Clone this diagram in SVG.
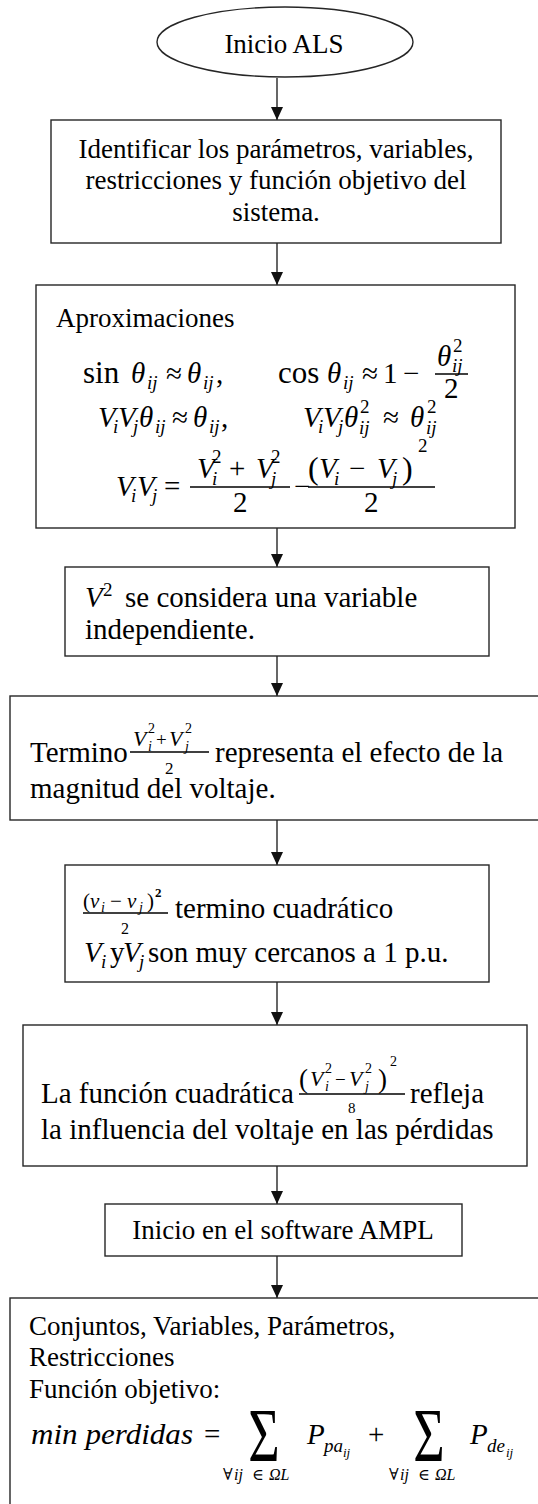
<svg xmlns="http://www.w3.org/2000/svg" width="538" height="1504" viewBox="0 0 538 1504" font-family="Liberation Serif, Times New Roman, DejaVu Serif, serif">
<style>
.box{fill:#fff;stroke:#262626;stroke-width:1.4}
.t{font-family:'Liberation Serif','Times New Roman','DejaVu Serif',serif;font-size:27px;fill:#000}
.L{font-size:29px}
.it{font-style:italic}
.mid{text-anchor:middle}
.bar{stroke:#000;stroke-width:1.3}
.edge{stroke:#262626;stroke-width:1.4;fill:none;marker-end:url(#ah)}
</style>
<defs>
<marker id="ah" viewBox="0 0 13 12" refX="13" refY="6" markerWidth="13" markerHeight="12" markerUnits="userSpaceOnUse" orient="auto">
<path d="M0,0 L13,6 L0,12 z" fill="#111"/>
</marker>
</defs>
<rect width="538" height="1504" fill="#fff"/>

<g id="connectors">
<line class="edge" x1="277" y1="78" x2="277" y2="120"/>
<line class="edge" x1="277" y1="243" x2="277" y2="285"/>
<line class="edge" x1="277" y1="528" x2="277" y2="567"/>
<line class="edge" x1="277" y1="656" x2="277" y2="696"/>
<line class="edge" x1="277" y1="820" x2="277" y2="865"/>
<line class="edge" x1="277" y1="982" x2="277" y2="1025"/>
<line class="edge" x1="277" y1="1166" x2="277" y2="1204"/>
<line class="edge" x1="277" y1="1256" x2="277" y2="1298"/>
</g>

<g id="n-start">
<ellipse class="box" cx="285" cy="42" rx="128" ry="35"/>
<text class="t mid" x="284" y="53">Inicio ALS</text>
</g>

<g id="n-identificar">
<rect class="box" x="51" y="120" width="450" height="123"/>
<text class="t mid" x="276" y="158">Identificar los parámetros, variables,</text>
<text class="t mid" x="276" y="189">restricciones y función objetivo del</text>
<text class="t mid" x="276" y="221">sistema.</text>
</g>

<g id="n-aprox">
<rect class="box" x="36" y="285" width="479" height="243"/>
<text class="t" x="56" y="327">Aproximaciones</text>
<text class="t" style="font-size:31px" x="83" y="383">sin</text>
<text class="t" style="font-size:31px" x="278" y="383">cos</text>
<text class="t L">
<tspan x="131" y="383" class="it">θ</tspan>
<tspan x="147" y="389" style="font-size:19px" class="it">ij</tspan>
<tspan x="166" y="383">≈</tspan>
<tspan x="187" y="383" class="it">θ</tspan>
<tspan x="203" y="389" style="font-size:19px" class="it">ij</tspan>
<tspan x="216" y="383">,</tspan>
<tspan x="327" y="383" class="it">θ</tspan>
<tspan x="343" y="389" style="font-size:19px" class="it">ij</tspan>
<tspan x="362" y="383">≈</tspan>
<tspan x="383" y="383">1</tspan>
<tspan x="403" y="383">−</tspan>
<tspan x="437" y="366" class="it">θ</tspan>
<tspan x="453" y="352" style="font-size:19px">2</tspan>
<tspan x="452" y="372" style="font-size:19px" class="it">ij</tspan>
<tspan x="444" y="398">2</tspan>
</text>
<line class="bar" x1="435" y1="374" x2="468" y2="374"/>
<text class="t L">
<tspan x="98" y="427" class="it">V</tspan>
<tspan x="113" y="433" style="font-size:19px" class="it">i</tspan>
<tspan x="118" y="427" class="it">V</tspan>
<tspan x="133" y="433" style="font-size:19px" class="it">j</tspan>
<tspan x="139" y="427" class="it">θ</tspan>
<tspan x="155" y="433" style="font-size:19px" class="it">ij</tspan>
<tspan x="172" y="427">≈</tspan>
<tspan x="193" y="427" class="it">θ</tspan>
<tspan x="209" y="433" style="font-size:19px" class="it">ij</tspan>
<tspan x="221" y="427">,</tspan>
<tspan x="303" y="427" class="it">V</tspan>
<tspan x="318" y="433" style="font-size:19px" class="it">i</tspan>
<tspan x="323" y="427" class="it">V</tspan>
<tspan x="338" y="433" style="font-size:19px" class="it">j</tspan>
<tspan x="344" y="427" class="it">θ</tspan>
<tspan x="360" y="413" style="font-size:19px">2</tspan>
<tspan x="359" y="434" style="font-size:19px" class="it">ij</tspan>
<tspan x="383" y="427">≈</tspan>
<tspan x="410" y="427" class="it">θ</tspan>
<tspan x="427" y="413" style="font-size:19px">2</tspan>
<tspan x="426" y="434" style="font-size:19px" class="it">ij</tspan>
</text>
<text class="t L">
<tspan x="116" y="496" class="it">V</tspan>
<tspan x="131" y="502" style="font-size:19px" class="it">i</tspan>
<tspan x="137" y="496" class="it">V</tspan>
<tspan x="152" y="502" style="font-size:19px" class="it">j</tspan>
<tspan x="164" y="496">=</tspan>
<tspan x="197" y="478" class="it">V</tspan>
<tspan x="212" y="463" style="font-size:19px">2</tspan>
<tspan x="212" y="485" style="font-size:19px" class="it">i</tspan>
<tspan x="229" y="478">+</tspan>
<tspan x="256" y="478" class="it">V</tspan>
<tspan x="271" y="463" style="font-size:19px">2</tspan>
<tspan x="271" y="485" style="font-size:19px" class="it">j</tspan>
<tspan x="233" y="512">2</tspan>
<tspan x="294" y="496">−</tspan>
<tspan x="308" y="479" style="font-size:32px">(</tspan>
<tspan x="319" y="478" class="it">V</tspan>
<tspan x="334" y="485" style="font-size:19px" class="it">i</tspan>
<tspan x="349" y="478">−</tspan>
<tspan x="377" y="478" class="it">V</tspan>
<tspan x="392" y="485" style="font-size:19px" class="it">j</tspan>
<tspan x="402" y="479" style="font-size:32px">)</tspan>
<tspan x="418" y="452" style="font-size:19px">2</tspan>
<tspan x="364" y="512">2</tspan>
</text>
<line class="bar" x1="190" y1="487" x2="290" y2="487"/>
<line class="bar" x1="308" y1="487" x2="435" y2="487"/>
</g>

<g id="n-v2">
<rect class="box" x="65" y="567" width="424" height="89"/>
<text class="t L"><tspan x="85" y="607" class="it">V</tspan><tspan x="103" y="596" style="font-size:19px">2</tspan><tspan x="125" y="607">se considera una variable</tspan></text>
<text class="t L" x="85" y="639">independiente.</text>
</g>

<g id="n-termino">
<rect class="box" x="10" y="696" width="545" height="124"/>
<text class="t L" x="30" y="762">Termino</text>
<text class="t" style="font-size:22px">
<tspan x="133" y="746" class="it">V</tspan>
<tspan x="148" y="733" style="font-size:14px">2</tspan>
<tspan x="148" y="751" style="font-size:14px" class="it">i</tspan>
<tspan x="156" y="746" style="font-size:19px">+</tspan>
<tspan x="169" y="746" class="it">V</tspan>
<tspan x="185" y="733" style="font-size:14px">2</tspan>
<tspan x="185" y="751" style="font-size:14px" class="it">j</tspan>
<tspan x="165" y="774" style="font-size:17px">2</tspan>
</text>
<line class="bar" x1="130" y1="752" x2="209" y2="752"/>
<text class="t L" x="215" y="762">representa el efecto de la</text>
<text class="t L" x="30" y="798">magnitud del voltaje.</text>
</g>

<g id="n-cuadratico">
<rect class="box" x="65" y="865" width="424" height="117"/>
<text class="t" style="font-size:21px">
<tspan x="83" y="908">(</tspan>
<tspan x="90" y="908" class="it">v</tspan>
<tspan x="101" y="912" style="font-size:14px" class="it">i</tspan>
<tspan x="110" y="908">−</tspan>
<tspan x="127" y="908" class="it">v</tspan>
<tspan x="139" y="912" style="font-size:14px" class="it">j</tspan>
<tspan x="147" y="908">)</tspan>
<tspan x="155" y="897" style="font-size:13px;font-weight:bold">2</tspan>
<tspan x="121" y="934" style="font-size:16px">2</tspan>
</text>
<line class="bar" x1="83" y1="913" x2="168" y2="913"/>
<text class="t L" x="175" y="918">termino cuadrático</text>
<text class="t L">
<tspan x="84" y="962" class="it">V</tspan>
<tspan x="101" y="968" style="font-size:19px" class="it">i</tspan>
<tspan x="110" y="962">y</tspan>
<tspan x="123" y="962" class="it">V</tspan>
<tspan x="139" y="968" style="font-size:19px" class="it">j</tspan>
<tspan x="148" y="962">son muy cercanos a 1 p.u.</tspan>
</text>
</g>

<g id="n-funcion">
<rect class="box" x="23" y="1025" width="504" height="141"/>
<text class="t L" x="41" y="1103">La función cuadrática</text>
<text class="t" style="font-size:22px">
<tspan x="299" y="1088" style="font-size:27px">(</tspan>
<tspan x="310" y="1086" class="it">V</tspan>
<tspan x="325" y="1073" style="font-size:14px">2</tspan>
<tspan x="325" y="1091" style="font-size:14px" class="it">i</tspan>
<tspan x="335" y="1086" style="font-size:19px">−</tspan>
<tspan x="349" y="1086" class="it">V</tspan>
<tspan x="365" y="1073" style="font-size:14px">2</tspan>
<tspan x="365" y="1091" style="font-size:14px" class="it">j</tspan>
<tspan x="378" y="1088" style="font-size:27px">)</tspan>
<tspan x="390" y="1066" style="font-size:14px">2</tspan>
<tspan x="348" y="1113" style="font-size:15px">8</tspan>
</text>
<line class="bar" x1="299" y1="1094" x2="405" y2="1094"/>
<text class="t L" x="410" y="1103">refleja</text>
<text class="t L" x="41" y="1139">la influencia del voltaje en las pérdidas</text>
</g>

<g id="n-ampl">
<rect class="box" x="105" y="1204" width="357" height="52"/>
<text class="t mid" x="283" y="1239">Inicio en el software AMPL</text>
</g>

<g id="n-modelo">
<rect class="box" x="10" y="1298" width="545" height="215"/>
<text class="t" x="29" y="1335">Conjuntos, Variables, Parámetros,</text>
<text class="t" x="29" y="1366">Restricciones</text>
<text class="t" x="29" y="1398">Función objetivo:</text>
<text class="t L it" x="31" y="1444" textLength="162" lengthAdjust="spacingAndGlyphs">min perdidas</text>
<text class="t L" x="204" y="1444">=</text>
<text class="t mid" style="font-size:54px" transform="translate(264,1461) scale(1,1.4)">Σ</text>
<text class="t" style="font-size:16px">
<tspan x="223" y="1480">∀</tspan>
<tspan x="234" y="1480" class="it">ij</tspan>
<tspan x="252" y="1480">∈</tspan>
<tspan x="269" y="1480" class="it">ΩL</tspan>
<tspan x="389" y="1480">∀</tspan>
<tspan x="400" y="1480" class="it">ij</tspan>
<tspan x="418" y="1480">∈</tspan>
<tspan x="435" y="1480" class="it">ΩL</tspan>
</text>
<text class="t L">
<tspan x="307" y="1444" class="it">P</tspan>
<tspan x="324" y="1452" style="font-size:19px" class="it">pa</tspan>
<tspan x="343" y="1457" style="font-size:13px" class="it">ij</tspan>
<tspan x="368" y="1444">+</tspan>
<tspan x="470" y="1444" class="it">P</tspan>
<tspan x="487" y="1452" style="font-size:19px" class="it">de</tspan>
<tspan x="506" y="1457" style="font-size:13px" class="it">ij</tspan>
</text>
<text class="t mid" style="font-size:54px" transform="translate(429,1461) scale(1,1.4)">Σ</text>
</g>
</svg>
